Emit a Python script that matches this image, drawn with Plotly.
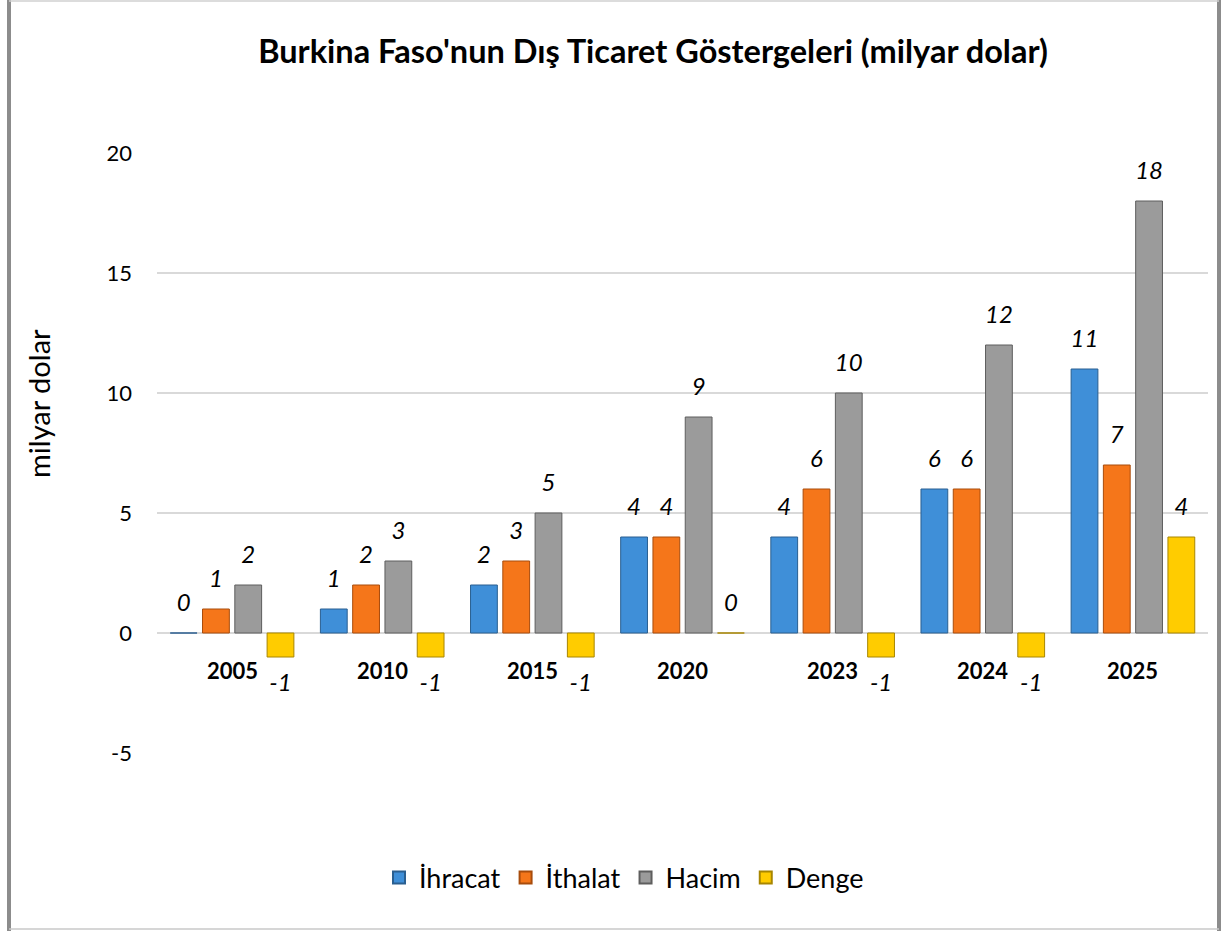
import plotly.graph_objects as go

years = ["2005", "2010", "2015", "2020", "2023", "2024", "2025"]
ihracat = [0, 1, 2, 4, 4, 6, 11]
ithalat = [1, 2, 3, 4, 6, 6, 7]
hacim = [2, 3, 5, 9, 10, 12, 18]
denge = [-1, -1, -1, 0, -1, -1, 4]

series_names = ["İhracat", "İthalat", "Hacim", "Denge"]
series_vals = [ihracat, ithalat, hacim, denge]
y_ticks = [-5, 0, 5, 10, 15, 20]
y_ticktext = ["-5", "0", "5", "10", "15", "20"]

colors = ["#3f8fd8", "#f5761a", "#9b9b9b", "#ffcc00"]
edges = ["#2a5f90", "#a84c0c", "#5e5e5e", "#a88600"]

FONT = "Lato"
BARGAP = 0.14
W, H = 1223, 931
L, R, T, B = 157, 15, 153, 178
PW, PH = W - L - R, H - T - B


def px_x(x):
    return (x - L) / PW


def px_y(y):
    return (H - B - y) / PH


fig = go.Figure()
for k, (name, vals, c, e) in enumerate(zip(series_names, series_vals, colors, edges)):
    fig.add_trace(go.Bar(
        x=years, y=vals, name=name,
        marker=dict(color=c, line=dict(color=e, width=1)),
        offsetgroup="g%d" % k,
        hoverinfo="skip",
    ))
for k, (name, vals) in enumerate(zip(series_names, series_vals)):
    fig.add_trace(go.Scatter(
        x=years, y=vals, name=name, mode="markers+text",
        text=[str(v) for v in vals],
        textposition=["bottom center" if v < 0 else "top center" for v in vals],
        textfont=dict(family=FONT, size=24, color="#000000", style="italic"),
        marker=dict(size=24, color="rgba(0,0,0,0)"),
        offsetgroup="g%d" % k,
        showlegend=False, cliponaxis=False, hoverinfo="skip",
    ))

annotations = []
for i, yr in enumerate(years):
    annotations.append(dict(
        x=i, y=0, xref="x", yref="y", text="<b>%s</b>" % yr,
        showarrow=False, yanchor="top", yshift=-22,
        font=dict(family=FONT, size=22, color="#000000"),
    ))
annotations.append(dict(
    x=px_x(38), y=px_y(404), xref="paper", yref="paper",
    text="milyar dolar", textangle=-90, showarrow=False,
    xanchor="center", yanchor="middle",
    font=dict(family=FONT, size=29, color="#000000"),
))

fig.update_layout(
    width=W, height=H,
    margin=dict(l=L, r=R, t=T, b=B),
    paper_bgcolor="white", plot_bgcolor="white",
    barmode="group", bargap=BARGAP, bargroupgap=0.17,
    scattermode="group", scattergap=BARGAP,
    title=dict(text="<b>Burkina Faso'nun Dış Ticaret Göstergeleri (milyar dolar)</b>",
               x=653/W, xref="container", xanchor="center",
               y=1-52/H, yref="container", yanchor="middle",
               font=dict(family=FONT, size=32.5, color="#000000")),
    font=dict(family=FONT, color="#000000"),
    showlegend=True,
    legend=dict(orientation="h", x=px_x(624), xanchor="center",
                y=px_y(878), yanchor="middle",
                font=dict(family=FONT, size=27, color="#000000"),
                itemsizing="constant", traceorder="normal"),
    annotations=annotations,
)
# chart frame: thick grey sides, thin light top/bottom
fig.add_shape(type="line", xref="paper", yref="paper",
              x0=px_x(9), x1=px_x(9), y0=px_y(0), y1=px_y(H),
              line=dict(color="#8c8c8c", width=4), layer="above")
fig.add_shape(type="line", xref="paper", yref="paper",
              x0=px_x(1219), x1=px_x(1219), y0=px_y(0), y1=px_y(H),
              line=dict(color="#8c8c8c", width=4), layer="above")
fig.add_shape(type="line", xref="paper", yref="paper",
              x0=px_x(9), x1=px_x(1219), y0=px_y(1), y1=px_y(1),
              line=dict(color="#d0d0d0", width=1.5), layer="above")
fig.add_shape(type="line", xref="paper", yref="paper",
              x0=px_x(9), x1=px_x(1219), y0=px_y(929), y1=px_y(929),
              line=dict(color="#c8c8c8", width=1.5), layer="above")

fig.update_xaxes(type="category", categoryorder="array", categoryarray=years,
                 range=[-0.5, len(years) - 0.5], autorange=False,
                 showticklabels=False, showgrid=False,
                 showline=False, zeroline=False)
fig.update_yaxes(range=[-5, 20], tickvals=y_ticks, ticktext=y_ticktext,
                 showgrid=True, gridcolor="#d9d9d9", gridwidth=1.5,
                 zeroline=True, zerolinecolor="#d9d9d9", zerolinewidth=2,
                 showline=False, ticklabelstandoff=24,
                 tickfont=dict(family=FONT, size=22, color="#000000"))

fig.write_html("out.html", config={"displayModeBar": False},
               post_script="document.body.style.margin='0';")
